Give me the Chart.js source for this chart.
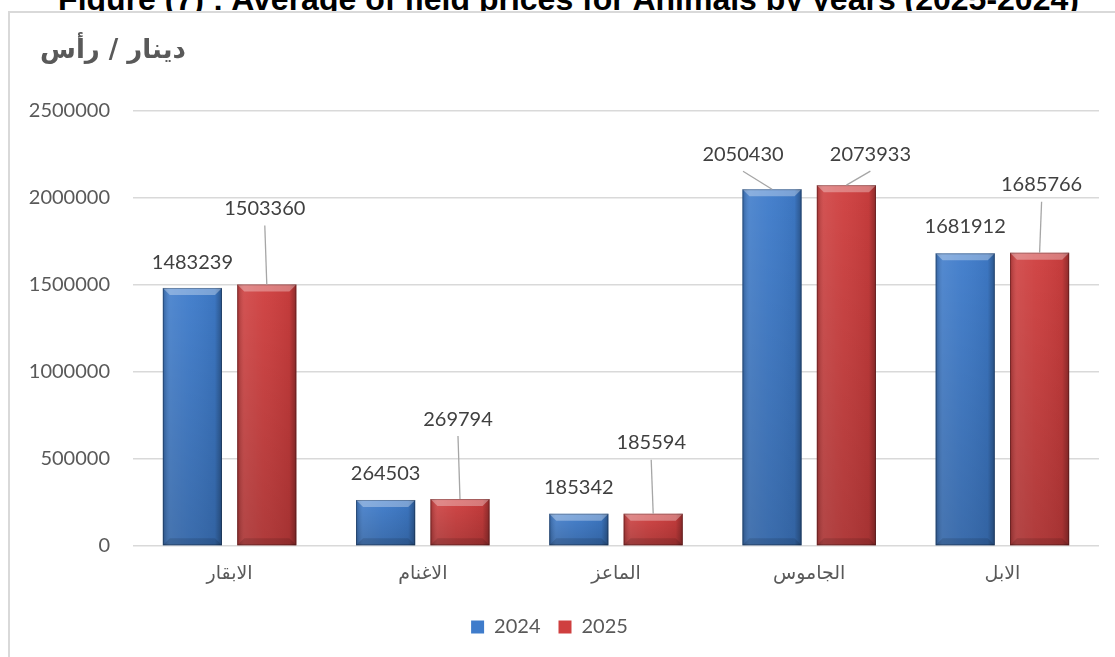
<!DOCTYPE html>
<html>
<head>
<meta charset="utf-8">
<script src="https://cdn.jsdelivr.net/npm/chart.js@4.4.1/dist/chart.umd.min.js"></script>
<style>
  html, body { margin: 0; padding: 0; background: #ffffff; overflow: hidden; }
  #wrap { position: relative; width: 1115px; height: 657px; overflow: hidden; }
  #title { position: absolute; left: 0; top: -17px; width: 1115px; text-align: center; font: bold 32px "Liberation Sans", Arial, sans-serif; line-height: 32px; color: #000; white-space: nowrap; z-index: 0; padding-left: 22px; box-sizing: border-box; }
  #box { position: absolute; left: 8px; top: 11px; width: 1200px; height: 800px; border-left: 2px solid #d9d9d9; border-top: 2px solid #d9d9d9; background: #fff; z-index: 1; }
  #unit { position: absolute; left: 40px; top: 34px; font: bold 26px "DejaVu Sans", sans-serif; color: #595959; z-index: 3; white-space: nowrap; direction: rtl; }
  #c { position: absolute; left: 0; top: 0; z-index: 2; }
</style>
</head>
<body>
<div id="wrap">
  <div id="title">Figure (7) : Average of field prices for Animals by years (2025-2024)</div>
  <div id="box"></div>
  <div id="unit">دينار / رأس</div>
  <canvas id="c" width="1115" height="657"></canvas>
</div>
<script>
// ---- data ----
const categories = ["الابقار", "الاغنام", "الماعز", "الجاموس", "الابل"];
const values2024 = [1483239, 264503, 185342, 2050430, 1681912];
const values2025 = [1503360, 269794, 185594, 2073933, 1685766];
const seriesNames = ["2024", "2025"];
const yTicks = [0, 500000, 1000000, 1500000, 2000000, 2500000];

// ---- label placement (style) ----
const labelShift = [
  [[0,-25],[0,-26],[0,-26],[-29,-35],[0,-27]],
  [[-2,-76],[-2,-80],[-2,-71],[24,-31],[2,-68]]
];
const leader = [
  [false,false,false,true,false],
  [true,true,true,true,true]
];

const bevelPlugin = {
  id: 'bevel',
  afterDatasetsDraw(chart) {
    const ctx = chart.ctx;
    chart.data.datasets.forEach((ds, di) => {
      const meta = chart.getDatasetMeta(di);
      meta.data.forEach(bar => {
        const w = bar.width, l = bar.x - w/2, r = bar.x + w/2, t = bar.y, b = bar.base;
        const h = b - t;
        ctx.save();
        let g = ctx.createLinearGradient(l, 0, r, 0);
        g.addColorStop(0, 'rgba(0,0,0,0.22)');
        g.addColorStop(0.12, 'rgba(255,255,255,0.10)');
        g.addColorStop(0.45, 'rgba(255,255,255,0.04)');
        g.addColorStop(0.88, 'rgba(0,0,0,0.05)');
        g.addColorStop(1, 'rgba(0,0,0,0.32)');
        ctx.fillStyle = g;
        ctx.fillRect(l, t, w, h);
        g = ctx.createLinearGradient(0, t, 0, b);
        g.addColorStop(0, 'rgba(0,0,0,0)');
        g.addColorStop(1, 'rgba(0,0,0,0.16)');
        ctx.fillStyle = g;
        ctx.fillRect(l, t, w, h);
        const bv = Math.min(7, h/2);
        ctx.beginPath();
        ctx.moveTo(l, t); ctx.lineTo(r, t); ctx.lineTo(r - bv, t + bv); ctx.lineTo(l + bv, t + bv); ctx.closePath();
        ctx.fillStyle = 'rgba(255,255,255,0.32)';
        ctx.fill();
        ctx.beginPath();
        ctx.moveTo(l, b); ctx.lineTo(r, b); ctx.lineTo(r - bv, b - bv); ctx.lineTo(l + bv, b - bv); ctx.closePath();
        ctx.fillStyle = 'rgba(0,0,0,0.12)';
        ctx.fill();
        ctx.strokeStyle = 'rgba(0,0,0,0.25)';
        ctx.lineWidth = 1;
        ctx.strokeRect(l + 0.5, t + 0.5, w - 1, h - 1);
        ctx.restore();
      });
    });
  }
};

const labelPlugin = {
  id: 'valueLabels',
  afterDatasetsDraw(chart) {
    const ctx = chart.ctx;
    ctx.save();
    ctx.font = '20px Lato, "Open Sans", sans-serif';
    ctx.fillStyle = '#404040';
    ctx.textAlign = 'center';
    ctx.textBaseline = 'middle';
    chart.data.datasets.forEach((ds, di) => {
      const meta = chart.getDatasetMeta(di);
      meta.data.forEach((bar, i) => {
        const [dx, dy] = labelShift[di][i];
        const lx = bar.x + dx, ly = bar.y + dy;
        if (leader[di][i]) {
          ctx.beginPath();
          ctx.strokeStyle = '#a6a6a6';
          ctx.lineWidth = 1.3;
          ctx.moveTo(lx, ly + 17);
          ctx.lineTo(bar.x, bar.y);
          ctx.stroke();
        }
        ctx.fillText(String(ds.data[i]), lx, ly);
      });
    });
    ctx.restore();
  }
};

new Chart(document.getElementById('c'), {
  type: 'bar',
  data: {
    labels: categories,
    datasets: [
      { label: seriesNames[0], data: values2024, backgroundColor: '#3f7ccb', borderWidth: 0 },
      { label: seriesNames[1], data: values2025, backgroundColor: '#cf3f3f', borderWidth: 0 }
    ]
  },
  plugins: [bevelPlugin, labelPlugin],
  options: {
    responsive: false,
    animation: false,
    devicePixelRatio: 1,
    layout: { padding: { left: 0, right: 16, top: 111, bottom: 10 } },
    datasets: { bar: { categoryPercentage: 0.77, barPercentage: 0.795 } },
    scales: {
      x: {
        grid: { display: false, drawTicks: false },
        border: { display: false },
        ticks: { padding: 17, color: '#595959', font: { family: '"DejaVu Sans", sans-serif', size: 19 } },
        afterFit(s) { s.height = 53; }
      },
      y: {
        min: 0, max: 2500000,
        afterBuildTicks(s) { s.ticks = yTicks.map(v => ({ value: v })); },
        grid: { color: '#d9d9d9', lineWidth: 1.5, drawTicks: false },
        border: { display: false },
        ticks: { padding: 23, color: '#595959', font: { family: 'Lato, "Open Sans", sans-serif', size: 20 }, callback: v => String(v) },
        afterFit(s) { s.width = 133; }
      }
    },
    plugins: {
      legend: {
        position: 'bottom',
        labels: { boxWidth: 13, boxHeight: 13, padding: 18, color: '#595959', font: { family: 'Lato, "Open Sans", sans-serif', size: 20 } }
      },
      tooltip: { enabled: false }
    }
  }
});
</script>
</body>
</html>
